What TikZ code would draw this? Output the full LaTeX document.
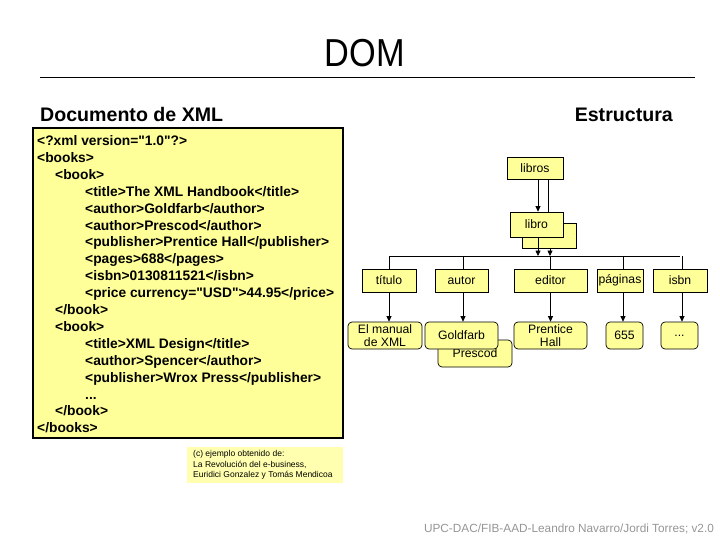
\documentclass[tikz,border=0pt]{standalone}
\usepackage{fontspec}
\setmainfont{Liberation Sans}[Ligatures=TeXOff]
\usetikzlibrary{arrows.meta}
\definecolor{boxy}{RGB}{255,255,153}
\definecolor{copyy}{RGB}{255,255,175}
\definecolor{footg}{RGB}{150,150,150}
\tikzset{
  sbox/.style={draw=black, line width=0.7pt, fill=boxy, minimum height=23pt, inner sep=0pt, font=\fontsize{12.2}{13}\selectfont},
  rbox/.style={sbox, rounded corners=4pt, minimum height=27pt, align=center, font=\fontsize{12.2}{13.5}\selectfont},
  conn/.style={line width=0.8pt},
  arr/.style={conn, -{Triangle[length=5.5pt,width=5pt]}},
  xml/.style={anchor=base west, inner sep=0pt, font=\fontsize{13.8}{14}\bfseries\selectfont},
  head/.style={inner sep=0pt, font=\fontsize{19.6}{21}\bfseries\selectfont}
}
\begin{document}
\begin{tikzpicture}[x=1pt,y=-1pt]
\useasboundingbox (0,0) rectangle (720,540);
\fill[white] (0,0) rectangle (720,540);
% title
\node[inner sep=0pt, anchor=base, font=\fontsize{39}{40}\selectfont] (title) at (365,67) {\scalebox{0.88}[1]{DOM}};
\draw[line width=0.8pt] (40,77) -- (695,77);
\node[head, anchor=base west] (hdoc) at (40,122) {Documento de XML};
\node[head, anchor=base east] (hest) at (673,122) {Estructura};
% xml document box
\filldraw[fill=boxy, draw=black, line width=1.5pt] (33,128) rectangle (343,438);
\node[xml] (l1) at (37,145.5) {<?xml version="1.0"?>};
\node[xml] (l2) at (37,162.4) {<books>};
\node[xml] (l3) at (55,179.3) {<book>};
\node[xml] (l4) at (85,196.2) {<title>The XML Handbook</title>};
\node[xml] (l5) at (85,213.1) {<author>Goldfarb</author>};
\node[xml] (l6) at (85,230.0) {<author>Prescod</author>};
\node[xml] (l7) at (85,246.9) {<publisher>Prentice Hall</publisher>};
\node[xml] (l8) at (85,263.8) {<pages>688</pages>};
\node[xml] (l9) at (85,280.7) {<isbn>0130811521</isbn>};
\node[xml] (l10) at (85,297.6) {<price currency="USD">44.95</price>};
\node[xml] (l11) at (55,314.5) {</book>};
\node[xml] (l12) at (55,331.4) {<book>};
\node[xml] (l13) at (85,348.3) {<title>XML Design</title>};
\node[xml] (l14) at (85,365.2) {<author>Spencer</author>};
\node[xml] (l15) at (85,382.1) {<publisher>Wrox Press</publisher>};
\node[xml] (l16) at (85,399.0) {...};
\node[xml] (l17) at (55,415.9) {</book>};
\node[xml] (l18) at (37,432.8) {</books>};
% copyright
\node[fill=copyy, minimum width=156pt, minimum height=36pt, inner sep=0pt] (cbox) at (265,465) {};
\node[anchor=north west, align=left, inner sep=0pt, font=\fontsize{8.5}{10.2}\selectfont] (ctext) at (193,450.5) {(c) ejemplo obtenido de:\\La Revolución del e-business,\\Euridici Gonzalez y Tomás Mendicoa};
% footer
\node[anchor=base, inner sep=0pt, text=footg, font=\fontsize{11.8}{12}\selectfont] (foot) at (569,532) {UPC-DAC/FIB-AAD-Leandro Navarro/Jordi Torres; v2.0};
% structure
\node[sbox, minimum width=56pt, minimum height=22pt] (libros) at (535,168) {libros};
\node[sbox, minimum width=54pt, minimum height=25pt] (libro2) at (549,235.5) {};
\node[sbox, minimum width=53pt, minimum height=25pt] (libro) at (536.5,224.5) {libro};
\node[sbox, minimum width=54pt] (titulo) at (389,280.5) {título};
\node[sbox, minimum width=53pt] (autor) at (461.5,280.5) {autor};
\node[sbox, minimum width=73pt] (editor) at (550.5,280.5) {editor};
\node[sbox, minimum width=46pt] (paginas) at (620,280.5) {páginas};
\node[sbox, minimum width=54pt] (isbn) at (680,280.5) {isbn};
\node[rbox, minimum width=74pt] (vtit) at (385,335.5) {El manual\\de XML};
\node[rbox, minimum width=74pt] (vpres) at (475,353.5) {\raisebox{-2pt}{Prescod}};
\node[rbox, minimum width=73pt] (vgold) at (461.5,335.5) {Goldfarb};
\node[rbox, minimum width=73pt] (vpub) at (550.5,335.5) {Prentice\\Hall};
\node[rbox, minimum width=37pt] (vpag) at (624.5,335.5) {655};
\node[rbox, minimum width=37pt] (visbn) at (679.5,335.5) {...};
% connectors
\coordinate (bus) at (0,256);
\draw[arr] ([xshift=3pt]libros.south) -- ([xshift=3pt]libros.south |- libro.north);
\draw[conn] ([xshift=13pt]libros.south) -- ([xshift=13pt]libros.south |- libro.north);
\draw[arr] ([xshift=1.5pt]libro.south) -- ([xshift=1.5pt]libro.south |- bus);
\draw[arr] ([xshift=1pt]libro2.south) -- ([xshift=1pt]libro2.south |- bus);
\draw[conn] (titulo.north |- bus) -- (isbn.north |- bus);
\draw[conn] (titulo.north |- bus) -- (titulo.north);
\draw[conn] ([xshift=1.5pt]autor.north |- bus) -- ([xshift=1.5pt]autor.north);
\draw[conn] (editor.north |- bus) -- (editor.north);
\draw[conn] ([xshift=3pt]paginas.north |- bus) -- ([xshift=3pt]paginas.north);
\draw[conn] ([xshift=2pt]isbn.north |- bus) -- ([xshift=2pt]isbn.north);
\draw[arr] (titulo.south) -- (titulo.south |- vtit.north);
\draw[arr] ([xshift=1.5pt]autor.south) -- ([xshift=1.5pt]autor.south |- vgold.north);
\draw[arr] (editor.south) -- (editor.south |- vpub.north);
\draw[arr] ([xshift=3pt]paginas.south) -- ([xshift=3pt]paginas.south |- vpag.north);
\draw[arr] ([xshift=2pt]isbn.south) -- ([xshift=2pt]isbn.south |- visbn.north);
\end{tikzpicture}
\end{document}
